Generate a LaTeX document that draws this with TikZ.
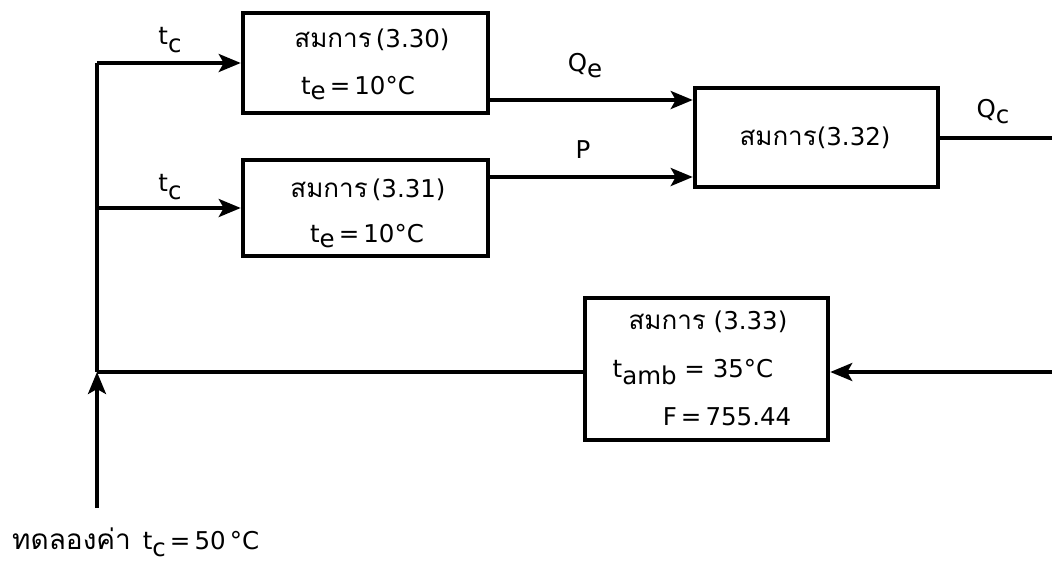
\documentclass[tikz,border=0pt]{standalone}
\usepackage{fontspec}
\setmainfont{DejaVu Sans}
\newfontfamily\thaifont[Script=Thai]{Loma}
\usetikzlibrary{arrows.meta}
% lowered index letters, drawn at body size
\newcommand{\lowidx}[2][0.3em]{\raisebox{-#1}{#2}}
\newcommand{\setthai}{\fontsize{26}{28}\selectfont\thaifont}
\begin{document}
\begin{tikzpicture}[x=1pt,y=-1pt,
  blk/.style={draw, line width=4.5pt, inner sep=0pt},
  wire/.style={line width=3.5pt},
  arr/.style={wire, -{Stealth[length=22pt,width=18pt,inset=5pt]}},
  lbl/.style={inner sep=0pt, font=\fontsize{24.5}{26}\selectfont}]
\useasboundingbox (0,0) rectangle (1052,563);

% equation blocks
\node[blk, minimum width=245pt, minimum height=100pt] (b1) at (365.5,63) {};
\node[blk, minimum width=245pt, minimum height=96pt] (b2) at (365.5,208) {};
\node[blk, minimum width=243pt, minimum height=99pt] (b3) at (816.5,137.5) {};
\node[blk, minimum width=243pt, minimum height=142pt] (b4) at (706.5,369) {};

% block texts
\node[lbl] (e30) at (372,40) {{\setthai สมการ}\,(3.30)};
\node[lbl] (p30) at (358,88) {t\lowidx[0.2em]{e}\,=\,10°C};
\node[lbl] (e31) at (368,190) {{\setthai สมการ}\,(3.31)};
\node[lbl] (p31) at (367,236) {t\lowidx[0.2em]{e}\,=\,10°C};
\node[lbl] (e32) at (815,138) {{\setthai สมการ}(3.32)};
\node[lbl] (e33) at (708,322) {{\setthai สมการ} (3.33)};
\node[lbl] (p33a) at (693,372) {t\lowidx[0.3em]{amb} = 35°C};
\node[lbl] (p33b) at (727,417) {F\,=\,755.44};

% junctions and free ends
\coordinate (j1) at (97,63);
\coordinate (j2) at (97,208);
\coordinate (j3) at (97,372);
\coordinate (src) at (97,508);
\coordinate (qe) at (600,100);
\coordinate (pp) at (600,177);
\coordinate (qc) at (1052,138);
\coordinate (fb) at (1052,372);

% connectors
\draw[wire] (j1) -- (j3);
\draw[arr] (j1) -- (b1.west);
\draw[arr] (j2) -- (b2.west);
\draw[arr] (b1.east |- qe) -- (b3.west |- qe);
\draw[arr] (b2.east |- pp) -- (b3.west |- pp);
\draw[wire] (b3.east |- qc) -- (qc);
\draw[arr] (fb) -- (b4.east |- fb);
\draw[wire] (b4.west |- fb) -- (j3);
\draw[arr] (src) -- (j3);

% signal labels
\node[lbl] (tc1) at (170,40) {t\lowidx{c}};
\node[lbl] (tc2) at (170,187) {t\lowidx{c}};
\node[lbl] (lqe) at (585,66) {Q\lowidx[0.25em]{e}};
\node[lbl] (lp) at (583,150) {P};
\node[lbl] (lqc) at (993,112) {Q\lowidx[0.25em]{c}};
\node[lbl, anchor=base west] (trial) at (12,549) {{\setthai\fontsize{28}{30}\selectfont ทดลองค่า}\, t\lowidx{c}\,=\,50\,°C};
\end{tikzpicture}
\end{document}
